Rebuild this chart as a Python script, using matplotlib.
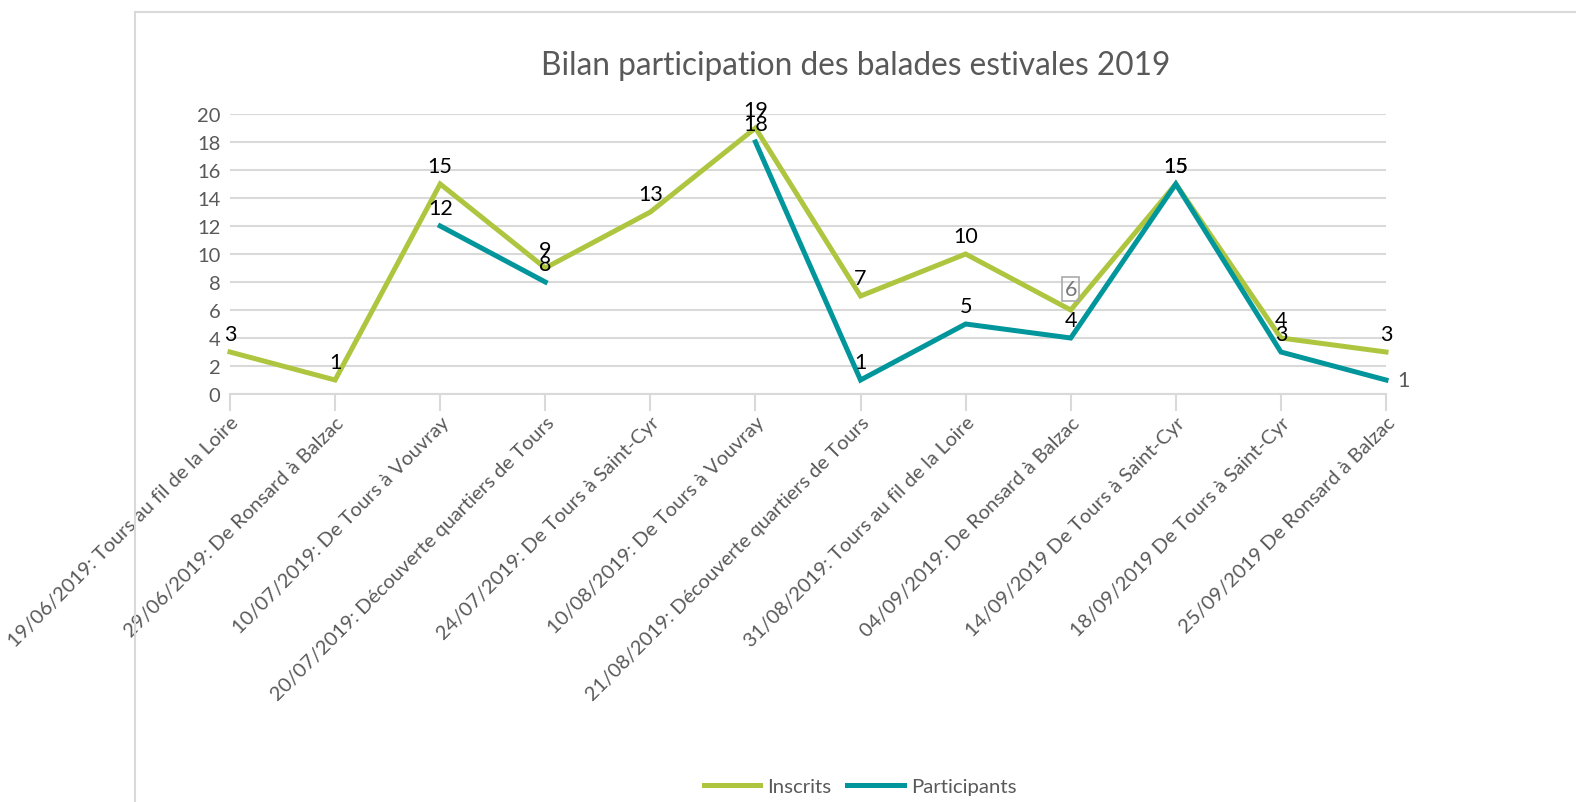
import numpy as np
import matplotlib
matplotlib.use("Agg")
import matplotlib.pyplot as plt
from matplotlib.lines import Line2D

categories = [
    "19/06/2019: Tours au fil de la Loire",
    "29/06/2019: De Ronsard à Balzac",
    "10/07/2019: De Tours à Vouvray",
    "20/07/2019: Découverte quartiers de Tours",
    "24/07/2019: De Tours à Saint-Cyr",
    "10/08/2019: De Tours à Vouvray",
    "21/08/2019: Découverte quartiers de Tours",
    "31/08/2019: Tours au fil de la Loire",
    "04/09/2019: De Ronsard à Balzac",
    "14/09/2019 De Tours à Saint-Cyr",
    "18/09/2019 De Tours à Saint-Cyr",
    "25/09/2019 De Ronsard à Balzac",
]
inscrits = [3, 1, 15, 9, 13, 19, 7, 10, 6, 15, 4, 3]
participants = [np.nan, np.nan, 12, 8, np.nan, 18, 1, 5, 4, 15, 3, 1]
yticks = [0, 2, 4, 6, 8, 10, 12, 14, 16, 18, 20]

GREEN = "#AEC63F"
TEAL = "#00969B"
GRID = "#D9D9D9"
TXT = "#595959"

plt.rcParams["font.family"] = ["Lato", "DejaVu Sans"]

fig = plt.figure(figsize=(15.76, 8.03), dpi=100)
W, H = 1576, 803

# outer chart frame (partly cut off at right / bottom)
fig.add_artist(Line2D([135 / W, 135 / W], [1 - 13 / H, 0], color=GRID, lw=1.5))
fig.add_artist(Line2D([135 / W, 1], [1 - 13 / H, 1 - 13 / H], color=GRID, lw=1.5))

ax = fig.add_axes([230 / W, 1 - 395 / H, (1386 - 230) / W, (395 - 115) / H])
x = np.arange(len(categories))

ax.plot(x, inscrits, color=GREEN, lw=3.6, solid_joinstyle="miter", clip_on=False, zorder=3)
ax.plot(x, participants, color=TEAL, lw=3.6, solid_joinstyle="miter", clip_on=False, zorder=4)

ax.set_xlim(0, len(categories) - 1)
ax.set_ylim(0, 20)
ax.set_yticks(yticks)
ax.set_yticklabels([str(v) for v in yticks], fontsize=14.5, color=TXT)
ax.yaxis.grid(True, color=GRID, lw=1.5)
ax.set_axisbelow(True)
for s in ["top", "right", "left"]:
    ax.spines[s].set_visible(False)
ax.spines["bottom"].set_color(GRID)
ax.spines["bottom"].set_linewidth(1.5)
ax.tick_params(axis="y", length=0, pad=7)
ax.tick_params(axis="x", length=12, width=1.5, color=GRID, pad=2)
ax.set_xticks(x)
ax.set_xticklabels(categories, rotation=45, ha="right", rotation_mode="anchor",
                   fontsize=14.5, color=TXT)

# data labels
for i, v in enumerate(inscrits):
    if i == 8:
        ax.annotate(str(v), (i, v), xytext=(0, 8), textcoords="offset points",
                    ha="center", va="bottom", fontsize=15.5, color="#777777",
                    bbox=dict(boxstyle="square,pad=0.1", fc="none", ec="#AAAAAA", lw=1.2),
                    zorder=6)
    else:
        ax.annotate(str(v), (i, v), xytext=(0, 6), textcoords="offset points",
                    ha="center", va="bottom", fontsize=15.5, color="black", zorder=6)
for i, v in enumerate(participants):
    if np.isnan(v):
        continue
    if i == len(participants) - 1:
        ax.annotate(str(int(v)), (i, v), xytext=(8, 0), textcoords="offset points",
                    ha="left", va="center", fontsize=15.5, color=TXT, zorder=6)
    else:
        ax.annotate(str(int(v)), (i, v), xytext=(0, 6), textcoords="offset points",
                    ha="center", va="bottom", fontsize=15.5, color="black", zorder=6)

fig.suptitle("Bilan participation des balades estivales 2019", x=856 / W, y=1 - 66 / H,
             fontsize=22.8, color=TXT, va="center")

handles = [Line2D([], [], color=GREEN, lw=3.6), Line2D([], [], color=TEAL, lw=3.6)]
fig.legend(handles, ["Inscrits", "Participants"], loc="center", bbox_to_anchor=(860 / W, 1 - 787 / H),
           ncol=2, frameon=False, fontsize=14.7, labelcolor=TXT, handlelength=2.75,
           handletextpad=0.35, columnspacing=0.8)

fig.savefig("out.png", dpi=100)
